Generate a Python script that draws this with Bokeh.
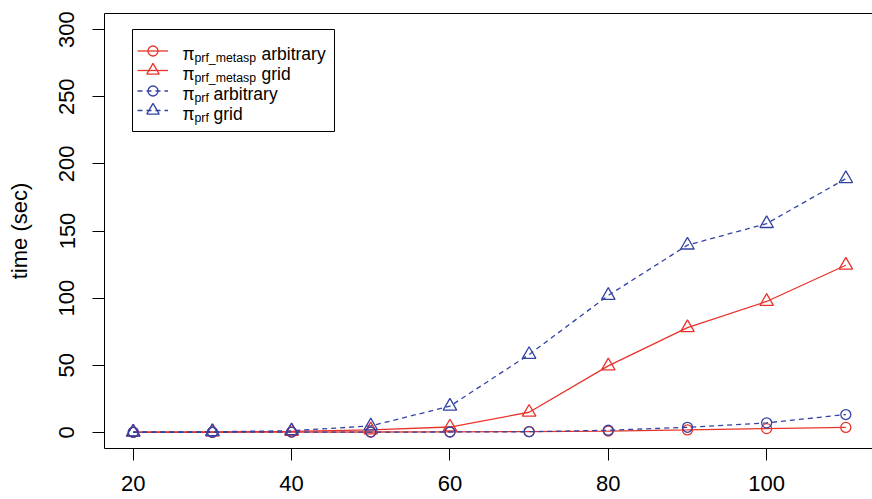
from bokeh.plotting import figure
from bokeh.models import (Range1d, FixedTicker, LinearAxis, Legend, LegendItem,
                          Label, BoxAnnotation)
from bokeh.embed import file_html
from bokeh.resources import INLINE

# ---------------- data ----------------
n_values = [20, 30, 40, 50, 60, 70, 80, 90, 100, 110]
metasp_arbitrary = [0.1, 0.1, 0.2, 0.3, 0.4, 0.6, 1.0, 1.8, 2.8, 3.7]
metasp_grid = [0.2, 0.4, 0.7, 1.8, 4.0, 15.0, 49.5, 78.0, 97.5, 124.5]
prf_arbitrary = [0.1, 0.1, 0.2, 0.2, 0.3, 0.5, 1.6, 3.8, 7.1, 13.3]
prf_grid = [0.2, 0.5, 1.2, 4.8, 19.5, 58.0, 102.0, 139.5, 155.5, 189.0]

x_ticks = [20, 40, 60, 80, 100]
y_ticks = [0, 50, 100, 150, 200, 250, 300]
y_title = "time (sec)"
legend_rows = [("prf_metasp", "arbitrary"), ("prf_metasp", "grid"),
               ("prf", "arbitrary"), ("prf", "grid")]

# ---------------- style ----------------
RED = "#E8332B"
BLUE = "#3343A3"
FONT = "Liberation Sans"
W, H = 872, 499
ML, MB, MT = 104, 51, 13

p = figure(width=W, height=H, output_backend="svg", toolbar_location=None,
           x_range=Range1d(16.37, 113.37), y_range=Range1d(-12, 312),
           min_border_left=ML, min_border_right=0, min_border_top=MT,
           min_border_bottom=MB)
p.grid.visible = False
p.outline_line_color = None
p.background_fill_color = "white"
p.border_fill_color = "white"

for ax in (p.xaxis[0], p.yaxis[0]):
    ax.axis_line_color = "black"
    ax.major_tick_line_color = "black"
    ax.major_tick_out = 12
    ax.major_tick_in = 0
    ax.minor_tick_line_color = None
    ax.major_label_text_font = FONT
    ax.major_label_text_font_size = "22px"
    ax.major_label_text_color = "black"

p.xaxis[0].ticker = FixedTicker(ticks=x_ticks)
p.xaxis[0].major_label_standoff = 15
p.yaxis[0].ticker = FixedTicker(ticks=y_ticks)
p.yaxis[0].major_label_orientation = "vertical"
p.yaxis[0].major_label_standoff = 18
p.yaxis[0].axis_label = y_title
p.yaxis[0].axis_label_text_font = FONT
p.yaxis[0].axis_label_text_font_size = "22px"
p.yaxis[0].axis_label_text_font_style = "normal"
p.yaxis[0].axis_label_text_color = "black"
p.yaxis[0].axis_label_standoff = 25

top = LinearAxis(ticker=FixedTicker(ticks=[]), major_tick_out=0, major_tick_in=0,
                 minor_tick_out=0, minor_tick_in=0, major_label_standoff=0,
                 axis_line_color="black")
p.add_layout(top, "above")

DASH = "5 4"
series = [
    (metasp_arbitrary, RED, "solid", "circle", 10),
    (metasp_grid, RED, "solid", "triangle", 13.5),
    (prf_arbitrary, BLUE, DASH, "circle", 10),
    (prf_grid, BLUE, DASH, "triangle", 13.5),
]
items = []
for ys, col, dash, marker, size in series:
    ln = p.line(n_values, ys, line_color=col, line_width=1.3, line_dash=dash)
    sc = p.scatter(n_values, ys, marker=marker, size=size, line_color=col,
                   fill_color=None, line_width=1.3)
    items.append((LegendItem(label=" ", renderers=[ln, sc]), marker))

# ---------------- legend ----------------
FL = ML            # frame left on page
FB = H - MB        # frame bottom on page
for i, (item, marker) in enumerate(items):
    center = 50 + 20 * i
    gh = 25 if marker == "circle" else 34   # legend marker size = 0.4 * min(w, h)
    leg = Legend(items=[item], location=(137 - FL, FB - (center + gh / 2)),
                 padding=0, margin=0, spacing=0, label_height=gh,
                 glyph_height=gh, glyph_width=31, label_standoff=0,
                 label_width=0, label_text_font_size="1px",
                 border_line_color=None, background_fill_alpha=0)
    p.add_layout(leg)

p.add_layout(BoxAnnotation(left=132 - FL, right=334 - FL, top=FB - 29, bottom=FB - 131,
                           left_units="screen", right_units="screen",
                           top_units="screen", bottom_units="screen",
                           fill_alpha=0, line_color="black", line_width=1,
                           line_alpha=1))

for i, (sub, word) in enumerate(legend_rows):
    base = 53.5 + 20 * i
    p.add_layout(Label(x=182 - FL, y=FB - base, x_units="screen", y_units="screen",
                       text="\u03c0", text_font=FONT, text_font_size="17.5px",
                       text_baseline="alphabetic", text_color="black"))
    p.add_layout(Label(x=194 - FL, y=FB - base - 3.5, x_units="screen", y_units="screen",
                       text=sub, text_font=FONT, text_font_size="12.3px",
                       text_baseline="alphabetic", text_color="black"))
    wx = 261 if sub == "prf_metasp" else 213
    p.add_layout(Label(x=wx - FL, y=FB - base, x_units="screen", y_units="screen",
                       text=word, text_font=FONT, text_font_size="17.5px",
                       text_baseline="alphabetic", text_color="black"))

open("out.html", "w").write(file_html(p, INLINE))
